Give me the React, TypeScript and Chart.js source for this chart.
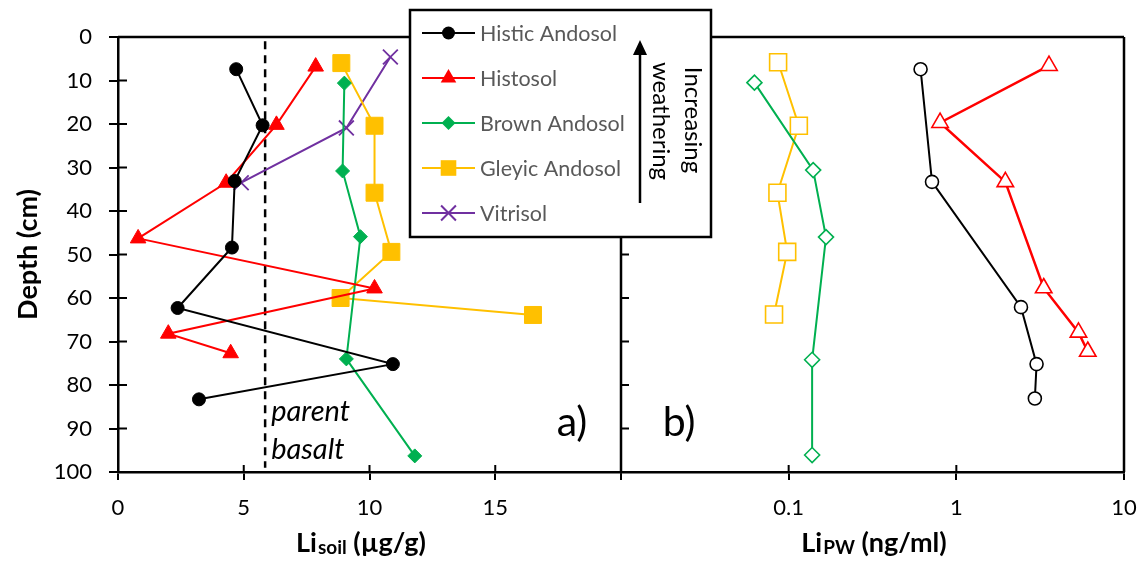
import React, { useEffect, useRef } from 'react';
import { Chart, registerables } from 'chart.js';
Chart.register(...registerables);

const FONT = 'Lato, "Open Sans", sans-serif';

// ---- Panel a) : Li in soil (µg/g) vs depth (cm)
const depthHisticA = [7.4, 20.3, 33.1, 48.4, 62.3, 75.2, 83.3];
const liSoilHistic = [4.7, 5.75, 4.64, 4.53, 2.37, 10.93, 3.22];
const depthHistosolA = [6.8, 20.2, 33.5, 46.3, 57.8, 68.2, 72.7];
const liSoilHistosol = [7.86, 6.3, 4.3, 0.8, 10.2, 2.0, 4.48];
const depthBrownA = [10.6, 30.8, 45.9, 74.0, 96.3];
const liSoilBrown = [9.0, 8.93, 9.64, 9.08, 11.8];
const depthGleyicA = [6.0, 20.4, 35.8, 49.4, 60.0, 63.9];
const liSoilGleyic = [8.88, 10.2, 10.2, 10.87, 8.85, 16.5];
const depthVitrisolA = [4.6, 20.9, 33.5];
const liSoilVitrisol = [10.83, 9.08, 4.9];
const parentBasalt = 5.85;
const basaltDepthRange = [1, 99];

// ---- Panel b) : Li in pore water (ng/ml) vs depth (cm)
const depthHisticB = [7.4, 33.3, 62.1, 75.2, 83.1];
const liPwHistic = [0.612, 0.716, 2.43, 3.01, 2.94];
const depthHistosolB = [6.6, 19.7, 33.3, 57.7, 67.9, 72.3];
const liPwHistosol = [3.57, 0.8, 1.96, 3.32, 5.35, 6.08];
const depthBrownB = [10.5, 30.6, 46.0, 74.2, 96.1];
const liPwBrown = [0.0625, 0.14, 0.167, 0.138, 0.138];
const depthGleyicB = [5.8, 20.4, 35.8, 49.4, 63.8];
const liPwGleyic = [0.0865, 0.115, 0.0857, 0.098, 0.0818];

// ---- axes
const soilTicks = [0, 5, 10, 15, 20];
const soilTickLabels = ['0', '5', '10', '15', ''];
const pwTicks = [0.01, 0.1, 1, 10];
const pwTickLabels = ['', '0.1', '1', '10'];

const seriesNames = ['Histic Andosol', 'Histosol', 'Brown Andosol', 'Gleyic Andosol', 'Vitrisol'];
const seriesColors = ['#000000', '#FF0000', '#00B050', '#FFC000', '#7030A0'];
const seriesStyles = ['circle', 'triangle', 'rectRot', 'rect', 'crossRot'];
const radiiA = [6.5, 9, 7, 12, 10.5];
const radiiB = [6.5, 9.5, 7.5, 12];

const pts = (xs: number[], ys: number[]) => xs.map((x, i) => ({ x, y: ys[i] }));

function drawMarker(ctx: CanvasRenderingContext2D, style: string, x: number, y: number, r: number, color: string) {
  ctx.save();
  ctx.fillStyle = color;
  ctx.strokeStyle = color;
  ctx.lineWidth = 2;
  ctx.beginPath();
  if (style === 'circle') {
    ctx.arc(x, y, r, 0, Math.PI * 2);
    ctx.fill();
  } else if (style === 'triangle') {
    for (let k = 0; k < 3; k++) {
      const a = (k * 2 * Math.PI) / 3;
      const px = x + Math.sin(a) * r;
      const py = y - Math.cos(a) * r;
      if (k === 0) ctx.moveTo(px, py);
      else ctx.lineTo(px, py);
    }
    ctx.closePath();
    ctx.fill();
  } else if (style === 'rectRot') {
    ctx.moveTo(x - r, y);
    ctx.lineTo(x, y - r);
    ctx.lineTo(x + r, y);
    ctx.lineTo(x, y + r);
    ctx.closePath();
    ctx.fill();
  } else if (style === 'rect') {
    const s = r * Math.SQRT1_2;
    ctx.rect(x - s, y - s, 2 * s, 2 * s);
    ctx.fill();
  } else if (style === 'crossRot') {
    const s = r * Math.SQRT1_2;
    ctx.moveTo(x - s, y - s);
    ctx.lineTo(x + s, y + s);
    ctx.moveTo(x - s, y + s);
    ctx.lineTo(x + s, y - s);
    ctx.stroke();
  }
  ctx.restore();
}

export default function App() {
  const ref = useRef<HTMLCanvasElement>(null);

  useEffect(() => {
    if (!ref.current) return;

    const dataA = [
      pts(liSoilHistic, depthHisticA),
      pts(liSoilHistosol, depthHistosolA),
      pts(liSoilBrown, depthBrownA),
      pts(liSoilGleyic, depthGleyicA),
      pts(liSoilVitrisol, depthVitrisolA),
    ];
    const dataB = [
      pts(liPwHistic, depthHisticB),
      pts(liPwHistosol, depthHistosolB),
      pts(liPwBrown, depthBrownB),
      pts(liPwGleyic, depthGleyicB),
    ];

    const datasets: any[] = [];
    dataA.forEach((d, i) => {
      datasets.push({
        label: seriesNames[i],
        data: d,
        xAxisID: 'xa',
        yAxisID: 'y',
        showLine: true,
        borderColor: seriesColors[i],
        backgroundColor: seriesColors[i],
        borderWidth: 2,
        pointStyle: seriesStyles[i],
        pointRadius: radiiA[i],
        pointBackgroundColor: seriesColors[i],
        pointBorderColor: seriesColors[i],
        pointBorderWidth: seriesStyles[i] === 'crossRot' ? 1.8 : 1,
      });
    });
    dataB.forEach((d, i) => {
      datasets.push({
        label: seriesNames[i] + ' (PW)',
        data: d,
        xAxisID: 'xb',
        yAxisID: 'y',
        showLine: true,
        borderColor: seriesColors[i],
        backgroundColor: '#ffffff',
        borderWidth: i === 1 ? 2.5 : 2,
        pointStyle: seriesStyles[i],
        pointRadius: radiiB[i],
        pointBackgroundColor: '#ffffff',
        pointBorderColor: seriesColors[i],
        pointBorderWidth: 1.6,
      });
    });
    datasets.push({
      label: 'parent basalt',
      data: basaltDepthRange.map((yv) => ({ x: parentBasalt, y: yv })),
      xAxisID: 'xa',
      yAxisID: 'y',
      showLine: true,
      borderColor: '#000000',
      borderWidth: 2.5,
      borderDash: [8, 6],
      pointRadius: 0,
    });

    const framePlugin = {
      id: 'framePlugin',
      beforeDatasetsDraw(chart: any) {
        const { ctx, chartArea } = chart;
        const { left, right, top, bottom } = chartArea;
        const xa = chart.scales.xa;
        const xb = chart.scales.xb;
        const y = chart.scales.y;
        const mid = xa.getPixelForValue(20);
        ctx.save();
        ctx.strokeStyle = '#000';
        ctx.lineWidth = 2.5;
        ctx.beginPath();
        ctx.moveTo(left, top);
        ctx.lineTo(right, top);
        ctx.moveTo(right, top);
        ctx.lineTo(right, bottom);
        ctx.moveTo(mid, top);
        ctx.lineTo(mid, bottom);
        ctx.stroke();
        ctx.lineWidth = 2;
        ctx.beginPath();
        y.ticks.forEach((_t: any, i: number) => {
          const py = y.getPixelForTick(i);
          ctx.moveTo(left, py);
          ctx.lineTo(left + 9, py);
          ctx.moveTo(mid, py);
          ctx.lineTo(mid + 8, py);
        });
        [xa, xb].forEach((s: any) => {
          s.ticks.forEach((_t: any, i: number) => {
            const px = s.getPixelForTick(i);
            ctx.moveTo(px, bottom);
            ctx.lineTo(px, bottom - 7);
          });
        });
        ctx.stroke();
        ctx.restore();
      },
      afterDraw(chart: any) {
        const { ctx, chartArea } = chart;
        const xa = chart.scales.xa;
        const xb = chart.scales.xb;
        const y = chart.scales.y;
        ctx.save();

        // axis titles
        ctx.fillStyle = '#000';
        ctx.textBaseline = 'alphabetic';
        const drawSubTitle = (cx: number, main: string, sub: string, rest: string) => {
          const big = `bold 27px ${FONT}`;
          const small = `bold 19px ${FONT}`;
          ctx.font = big;
          const w1 = ctx.measureText(main).width;
          const w3 = ctx.measureText(rest).width;
          ctx.font = small;
          const w2 = ctx.measureText(sub).width;
          const total = w1 + w2 + w3;
          const x0 = cx - total / 2;
          const base = 552;
          ctx.textAlign = 'left';
          ctx.font = big;
          ctx.fillText(main, x0, base);
          ctx.font = small;
          ctx.fillText(sub, x0 + w1 + 1, base + 2);
          ctx.font = big;
          ctx.fillText(rest, x0 + w1 + w2 + 1, base);
        };
        drawSubTitle((xa.left + xa.right) / 2 - 9, 'Li', 'soil', ' (µg/g)');
        drawSubTitle((xb.left + xb.right) / 2 + 1, 'Li', 'PW', ' (ng/ml)');

        ctx.save();
        ctx.translate(28, (chartArea.top + chartArea.bottom) / 2);
        ctx.rotate(-Math.PI / 2);
        ctx.font = `bold 27px ${FONT}`;
        ctx.textAlign = 'center';
        ctx.textBaseline = 'middle';
        ctx.fillText('Depth (cm)', 0, 0);
        ctx.restore();

        // annotations
        ctx.font = `italic 29px ${FONT}`;
        ctx.textAlign = 'left';
        ctx.textBaseline = 'middle';
        const bx = xa.getPixelForValue(parentBasalt) + 6;
        ctx.fillText('parent', bx, y.getPixelForValue(86.2));
        ctx.fillText('basalt', bx, y.getPixelForValue(94.8));

        ctx.font = `41px ${FONT}`;
        ctx.textAlign = 'center';
        ctx.fillText('a)', xa.getPixelForValue(18.05), y.getPixelForValue(88.8));
        ctx.fillText('b)', xb.getPixelForValue(0.0222), y.getPixelForValue(88.8));

        // legend box
        const L = 410, T = 10, R = 711, B = 237;
        ctx.fillStyle = '#ffffff';
        ctx.fillRect(L, T, R - L, B - T);
        ctx.strokeStyle = '#000';
        ctx.lineWidth = 2.5;
        ctx.strokeRect(L, T, R - L, B - T);

        ctx.font = `21.5px ${FONT}`;
        ctx.textAlign = 'left';
        ctx.textBaseline = 'middle';
        seriesNames.forEach((name, i) => {
          const ly = 33 + i * 45;
          ctx.strokeStyle = seriesColors[i];
          ctx.lineWidth = 2;
          ctx.beginPath();
          ctx.moveTo(422, ly);
          ctx.lineTo(475, ly);
          ctx.stroke();
          drawMarker(ctx, seriesStyles[i], 448.5, ly, radiiA[i] * (i === 3 ? 0.92 : 1), seriesColors[i]);
          ctx.fillStyle = '#595959';
          ctx.fillText(name, 480, ly + 1);
        });

        // weathering arrow
        ctx.strokeStyle = '#000';
        ctx.fillStyle = '#000';
        ctx.lineWidth = 2.5;
        ctx.beginPath();
        ctx.moveTo(640, 203);
        ctx.lineTo(640, 52);
        ctx.stroke();
        ctx.beginPath();
        ctx.moveTo(640, 40);
        ctx.lineTo(647, 55);
        ctx.lineTo(633, 55);
        ctx.closePath();
        ctx.fill();

        ctx.font = `24px ${FONT}`;
        ctx.textAlign = 'center';
        ctx.textBaseline = 'middle';
        ctx.save();
        ctx.translate(693, 120);
        ctx.rotate(Math.PI / 2);
        ctx.fillText('Increasing', 0, 0);
        ctx.restore();
        ctx.save();
        ctx.translate(661, 121);
        ctx.rotate(Math.PI / 2);
        ctx.fillText('weathering', 0, 0);
        ctx.restore();

        ctx.restore();
      },
    };

    const fitX = (s: any) => {
      s.height = 92;
      s.paddingLeft = 0;
      s.paddingRight = 0;
    };

    const tickFont = { family: FONT, size: 22 };
    const chart = new Chart(ref.current, {
      type: 'scatter',
      data: { datasets },
      plugins: [framePlugin],
      options: {
        responsive: false,
        animation: false,
        devicePixelRatio: 1,
        layout: { padding: { top: 37, right: 19, left: 0, bottom: 0 } },
        plugins: { legend: { display: false }, tooltip: { enabled: false } },
        scales: {
          xa: {
            type: 'linear',
            position: 'bottom',
            stack: 'xs',
            stackWeight: 1,
            weight: 0,
            min: 0,
            max: 20,
            afterBuildTicks: (s: any) => {
              s.ticks = soilTicks.map((v) => ({ value: v }));
            },
            afterFit: fitX,
            ticks: {
              autoSkip: false,
              maxRotation: 0,
              padding: 15,
              color: '#000',
              font: tickFont,
              callback: (v: any) => {
                const k = soilTicks.indexOf(Number(v));
                return k >= 0 ? soilTickLabels[k] : '';
              },
            },
            grid: { drawOnChartArea: false, drawTicks: true, tickLength: 8, color: '#000', lineWidth: 2 },
            border: { display: true, color: '#000', width: 2.5 },
          },
          xb: {
            type: 'logarithmic',
            position: 'bottom',
            stack: 'xs',
            stackWeight: 1,
            weight: 1,
            min: 0.01,
            max: 10,
            afterBuildTicks: (s: any) => {
              s.ticks = pwTicks.map((v) => ({ value: v }));
            },
            afterFit: fitX,
            ticks: {
              autoSkip: false,
              maxRotation: 0,
              padding: 15,
              color: '#000',
              font: tickFont,
              callback: (v: any) => {
                const k = pwTicks.findIndex((t) => Math.abs(t - Number(v)) < 1e-9);
                return k >= 0 ? pwTickLabels[k] : '';
              },
            },
            grid: { drawOnChartArea: false, drawTicks: true, tickLength: 8, color: '#000', lineWidth: 2 },
            border: { display: true, color: '#000', width: 2.5 },
          },
          y: {
            type: 'linear',
            position: 'left',
            reverse: true,
            min: 0,
            max: 100,
            afterFit: (s: any) => {
              s.width = 118;
              s.paddingTop = 0;
              s.paddingBottom = 0;
            },
            ticks: { stepSize: 10, padding: 17, color: '#000', font: tickFont },
            grid: { drawOnChartArea: false, drawTicks: true, tickLength: 9, color: '#000', lineWidth: 2 },
            border: { display: true, color: '#000', width: 2.5 },
          },
        },
      } as any,
    });
    return () => chart.destroy();
  }, []);

  return (
    <div style={{ position: 'fixed', left: 0, top: 0, width: 1143, height: 564, background: '#ffffff' }}>
      <canvas ref={ref} width={1143} height={564} style={{ display: 'block', width: 1143, height: 564 }} />
    </div>
  );
}
